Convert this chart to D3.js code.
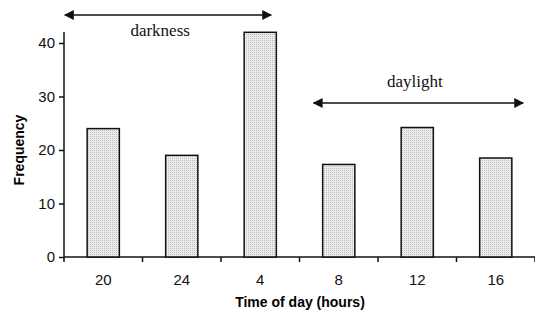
<!DOCTYPE html>
<html>
<head>
<meta charset="utf-8">
<script src="https://cdn.jsdelivr.net/npm/d3@7"></script>
<style>
  body { margin: 0; background: #fff; }
  svg { display: block; }
  .tick text { font-family: "Liberation Sans", Arial, sans-serif; font-size: 15px; fill: #111; }
</style>
</head>
<body>
<svg id="chart" width="535" height="314"></svg>
<script>
const categories = ["20", "24", "4", "8", "12", "16"];
const frequency = [24, 19, 42, 17.3, 24.2, 18.5];
const yTicks = [0, 10, 20, 30, 40];

const svg = d3.select("#chart");
const margin = { left: 64, right: 0, top: 32, bottom: 57 };
const width = 535, height = 314;

// stipple fill for the bars
const defs = svg.append("defs");
const pat = defs.append("pattern")
  .attr("id", "dots")
  .attr("patternUnits", "userSpaceOnUse")
  .attr("width", 2).attr("height", 2);
pat.append("rect").attr("width", 2).attr("height", 2).attr("fill", "#ececec");
pat.append("rect").attr("width", 1).attr("height", 1).attr("fill", "#bdbdbd");

const x = d3.scaleBand()
  .domain(categories)
  .range([margin.left, width - margin.right])
  .paddingInner(0.59)
  .paddingOuter(0.295);

const y = d3.scaleLinear()
  .domain([0, 40])
  .range([257, 43]);

// x axis across full width with ticks at band boundaries
const step = x.step();
const x0 = margin.left;
svg.append("line")
  .attr("x1", x0).attr("x2", width)
  .attr("y1", y(0)).attr("y2", y(0))
  .attr("stroke", "#111").attr("stroke-width", 1.5);
svg.selectAll(".xtick")
  .data(d3.range(categories.length + 1))
  .enter().append("line")
  .attr("class", "xtick")
  .attr("x1", i => x0 + i * step).attr("x2", i => x0 + i * step)
  .attr("y1", y(0)).attr("y2", y(0) + 5)
  .attr("stroke", "#111").attr("stroke-width", 1.5);
svg.selectAll(".xlabel")
  .data(categories)
  .enter().append("text")
  .attr("class", "xlabel")
  .attr("x", d => x(d) + x.bandwidth() / 2)
  .attr("y", 285)
  .attr("text-anchor", "middle")
  .style("font-family", "Liberation Sans, Arial, sans-serif")
  .style("font-size", "15px")
  .attr("fill", "#111")
  .text(d => d);

// y axis
const yAxis = svg.append("g")
  .attr("transform", `translate(${margin.left},0)`)
  .call(d3.axisLeft(y).tickValues(yTicks).tickSize(5).tickPadding(4).tickSizeOuter(0));
yAxis.select(".domain").remove();
svg.append("line")
  .attr("x1", margin.left).attr("x2", margin.left)
  .attr("y1", margin.top).attr("y2", y(0))
  .attr("stroke", "#111").attr("stroke-width", 1.5);
yAxis.selectAll(".tick line").attr("stroke", "#111").attr("stroke-width", 1.5);

// bars
svg.selectAll(".bar")
  .data(frequency)
  .enter().append("rect")
  .attr("class", "bar")
  .attr("x", (d, i) => x(categories[i]))
  .attr("y", d => y(d))
  .attr("width", x.bandwidth())
  .attr("height", d => y(0) - y(d))
  .attr("fill", "url(#dots)")
  .attr("stroke", "#111")
  .attr("stroke-width", 1.5);

// axis titles
svg.append("text")
  .attr("x", 300).attr("y", 307)
  .attr("text-anchor", "middle")
  .style("font-family", "Liberation Sans, Arial, sans-serif")
  .style("font-size", "14px").style("font-weight", "bold")
  .text("Time of day (hours)");
svg.append("text")
  .attr("transform", "translate(24,150) rotate(-90)")
  .attr("text-anchor", "middle")
  .style("font-family", "Liberation Sans, Arial, sans-serif")
  .style("font-size", "14px").style("font-weight", "bold")
  .text("Frequency");

// annotation arrows
defs.append("marker")
  .attr("id", "head")
  .attr("viewBox", "0 0 10 10")
  .attr("refX", 9).attr("refY", 5)
  .attr("markerWidth", 10).attr("markerHeight", 10)
  .attr("markerUnits", "userSpaceOnUse")
  .attr("orient", "auto-start-reverse")
  .append("path").attr("d", "M0,0 L10,5 L0,10 Z").attr("fill", "#111");

const spans = [
  { label: "darkness", from: x0 + 0.01 * step, to: x0 + 2.64 * step, y: 15, tx: x0 + 1.225 * step, ty: 36 },
  { label: "daylight", from: x0 + 3.18 * step, to: x0 + 5.85 * step, y: 103, tx: x0 + 4.47 * step, ty: 87 }
];
spans.forEach(s => {
  svg.append("line")
    .attr("x1", s.from).attr("x2", s.to)
    .attr("y1", s.y).attr("y2", s.y)
    .attr("stroke", "#111").attr("stroke-width", 1.5)
    .attr("marker-start", "url(#head)")
    .attr("marker-end", "url(#head)");
  svg.append("text")
    .attr("x", s.tx).attr("y", s.ty)
    .attr("text-anchor", "middle")
    .style("font-family", "Liberation Serif, Times New Roman, serif")
    .style("font-size", "17px")
    .attr("fill", "#111")
    .text(s.label);
});
</script>
</body>
</html>
